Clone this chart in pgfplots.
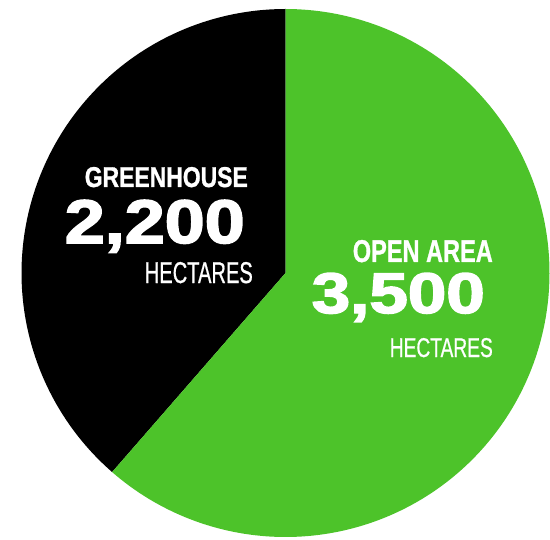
\documentclass[border=0pt]{standalone}
\usepackage{pgfplots}
\usepackage{pgfplotstable}
\usepackage{graphicx}
\usepackage{fontspec}
\setmainfont{Liberation Sans}
\newfontfamily\heavy[FakeBold=2.5]{Liberation Sans Bold}
\newfontfamily\semi[FakeBold=1.2]{Liberation Sans Bold}
\newfontfamily\med[FakeBold=0.8]{Liberation Sans}
\pgfplotsset{compat=1.18}
\definecolor{piegreen}{RGB}{77,195,42}
\pgfplotstableread{
label value
Greenhouse 2200
OpenArea 3500
}\pietable
\pgfplotstablegetelem{0}{value}\of\pietable \let\vg\pgfplotsretval
\pgfplotstablegetelem{1}{value}\of\pietable \let\vo\pgfplotsretval
\pgfmathsetmacro{\frac}{\vg/(\vg+\vo)}
\pgfmathsetmacro{\angA}{90+360*\frac}
\pgfmathsetmacro{\angB}{450}
\begin{document}
\begin{tikzpicture}
\begin{axis}[
  width=550bp, height=539bp, scale only axis,
  xmin=0, xmax=550, ymin=0, ymax=539,
  hide axis, clip=false,
]
\path (axis cs:0,0) -- (axis cs:550,539);
\addplot[fill=black, draw=none, domain=90:\angA, samples=120]
  ({285.5+264*cos(x)}, {266+264*sin(x)}) -- (axis cs:285.5,266) -- cycle;
\addplot[fill=piegreen, draw=none, domain=\angA:\angB, samples=180]
  ({285.5+264*cos(x)}, {266+264*sin(x)}) -- (axis cs:285.5,266) -- cycle;
\node[anchor=base east, inner sep=0, text=white] at (axis cs:248,352)
  {\resizebox{163bp}{20bp}{\semi GREENHOUSE}};
\node[anchor=base east, inner sep=0, text=white] at (axis cs:245,296)
  {\resizebox{180bp}{43bp}{\heavy 2,200}};
\node[anchor=base east, inner sep=0, text=white] at (axis cs:253,256)
  {\resizebox{108bp}{21bp}{\med HECTARES}};
\node[anchor=base east, inner sep=0, text=white] at (axis cs:493,277)
  {\resizebox{140bp}{22bp}{\semi OPEN AREA}};
\node[anchor=base east, inner sep=0, text=white] at (axis cs:485,226)
  {\resizebox{173bp}{40bp}{\heavy 3,500}};
\node[anchor=base east, inner sep=0, text=white] at (axis cs:493,182)
  {\resizebox{103bp}{19bp}{\med HECTARES}};
\end{axis}
\end{tikzpicture}
\end{document}
